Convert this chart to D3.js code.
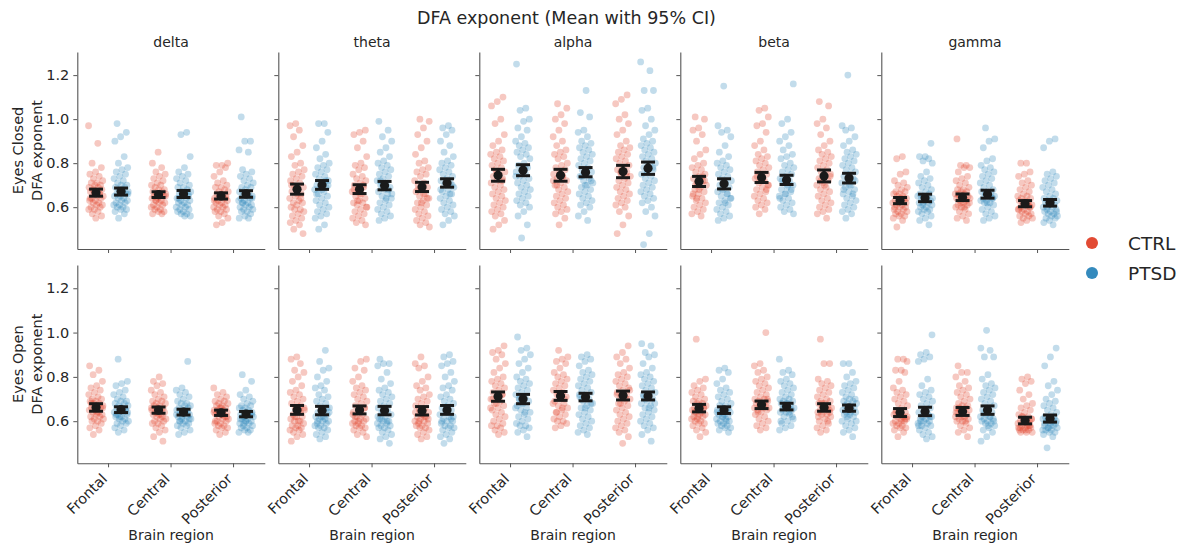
<!DOCTYPE html>
<html><head><meta charset="utf-8">
<script src="https://cdn.jsdelivr.net/npm/d3@7"></script>
<style>
body{margin:0;background:#fff}
text{font-family:"DejaVu Sans",sans-serif;fill:#262626}
</style>
</head><body>
<svg id="c" width="1186" height="548"></svg>
<script>
// ---------- categories ----------
const bands = ["delta","theta","alpha","beta","gamma"];
const regions = ["Frontal","Central","Posterior"];
const groups = ["CTRL","PTSD"];
const conditions = ["Eyes Closed","Eyes Open"];
const yTicks = [0.6,0.8,1.0,1.2];
const yTickLabels = ["0.6","0.8","1.0","1.2"];

// ---------- means and 95% CI half-widths, per band: [Frontal, Central, Posterior] ----------
const meanEC_CTRL = [[.666,.657,.651],[.682,.682,.692],[.745,.745,.762],[.717,.735,.742],[.630,.645,.616]];
const meanEC_PTSD = [[.671,.660,.660],[.701,.698,.710],[.768,.759,.777],[.706,.724,.732],[.642,.659,.620]];
const ciEC_CTRL   = [[.016,.013,.014],[.023,.020,.021],[.027,.027,.028],[.023,.023,.027],[.014,.015,.014]];
const ciEC_PTSD   = [[.016,.016,.015],[.020,.019,.019],[.025,.021,.028],[.023,.021,.022],[.017,.018,.015]];
const meanEO_CTRL = [[.662,.650,.638],[.651,.651,.647],[.711,.714,.716],[.659,.674,.662],[.639,.644,.603]];
const meanEO_PTSD = [[.652,.641,.632],[.648,.648,.651],[.700,.709,.714],[.650,.666,.659],[.644,.650,.612]];
const ciEO_CTRL   = [[.017,.014,.012],[.020,.018,.019],[.021,.020,.020],[.017,.017,.017],[.018,.018,.015]];
const ciEO_PTSD   = [[.013,.013,.012],[.019,.019,.020],[.021,.017,.018],[.015,.015,.014],[.019,.019,.016]];

// ---------- individual DFA exponents (x100), per strip: [Frontal, Central, Posterior] ----------
const ecDeltaCTRL = [
 [97,89,80,78,76,75,74,73,72,71,71,70,70,69,69,68,68,67,67,66,66,65,65,64,64,63,63,62,62,61,61,60,60,59,59,58,57,56,55,64,66,68],
 [85,80,78,76,75,74,73,72,71,70,70,69,68,68,67,67,66,66,65,65,65,64,64,63,63,62,62,61,61,60,60,59,59,58,58,57,57,63,65,66],
 [80,79,79,78,76,74,72,71,70,69,69,68,67,67,66,66,65,65,64,64,63,63,62,62,61,61,60,60,59,59,58,58,57,56,55,53,52,64,65,63]];
const ecDeltaPTSD = [
 [98,94,92,90,83,80,78,77,76,75,74,73,72,71,70,70,69,69,68,67,67,66,66,65,65,64,64,63,63,62,62,61,61,60,60,59,59,58,57,55,66,68],
 [94,93,83,78,76,75,74,73,72,71,70,69,69,68,67,67,66,66,65,65,64,64,63,63,62,62,61,61,60,60,59,59,58,58,57,57,56,56,64,66],
 [101,90,90,86,85,77,76,75,74,73,72,71,70,69,69,68,67,66,66,65,65,64,64,63,63,62,62,61,61,60,60,59,59,58,58,57,56,55,55,62,64]];
const ecThetaCTRL = [
 [98,97,95,92,88,85,83,80,79,77,76,75,74,73,72,71,70,69,68,67,66,65,64,63,62,62,61,60,59,59,58,57,56,55,54,53,52,50,48,66,70,64],
 [95,94,93,90,87,83,80,79,78,77,75,74,73,72,71,70,69,68,67,66,65,64,63,62,62,61,60,59,58,57,56,55,54,53,52,66,68,70,63,60],
 [100,99,96,93,90,87,84,81,80,78,77,76,75,74,72,71,70,69,68,67,66,65,64,63,62,61,60,59,58,57,56,55,54,53,52,51,66,68,64,62]];
const ecThetaPTSD = [
 [98,98,94,90,87,84,82,80,79,78,77,76,75,74,73,72,71,70,69,69,68,67,66,65,64,63,62,61,60,59,58,57,56,55,52,50,70,68,66,72],
 [99,95,92,90,87,85,83,81,80,79,78,77,76,75,74,73,72,71,70,69,68,67,66,65,64,63,62,61,60,59,58,57,56,55,54,68,70,66,64,72],
 [97,96,95,93,90,88,85,83,81,80,79,78,77,76,75,74,73,72,71,70,69,68,67,66,65,64,63,62,61,60,59,58,57,56,54,52,70,72,68,66]];
const ecAlphaCTRL = [
 [110,108,106,100,98,93,90,88,86,85,84,83,82,81,80,79,78,77,76,75,74,73,72,71,70,69,68,67,66,65,64,63,62,61,60,59,58,57,56,54,52,50,72,76],
 [107,105,102,100,98,95,92,90,88,86,85,84,83,82,80,79,78,77,76,75,74,73,72,71,70,69,68,67,66,65,64,63,62,61,60,59,58,57,55,52,72,74,70],
 [111,109,107,102,100,98,95,93,90,88,87,86,85,84,83,82,81,80,79,78,77,76,75,74,73,72,71,70,69,68,67,66,65,64,63,62,61,60,58,56,52,48,74,76]];
const ecAlphaPTSD = [
 [125,105,104,100,99,96,95,92,90,89,88,87,86,85,84,83,82,80,79,78,77,76,75,74,73,72,71,70,69,68,67,66,65,64,63,62,61,60,58,56,52,46,74,78],
 [113,103,101,95,94,92,90,89,88,87,86,85,84,83,82,81,80,79,78,77,76,75,74,73,72,71,70,69,68,67,66,65,64,63,62,61,60,58,56,54,74,72,70],
 [126,122,113,113,105,104,100,97,95,93,91,90,89,88,87,86,85,84,83,82,81,80,79,78,77,76,75,74,73,72,71,70,69,68,67,66,65,64,63,62,60,58,56,48,43,78,76]];
const ecBetaCTRL = [
 [101,100,96,95,93,90,86,84,82,80,79,78,77,76,75,74,73,72,71,70,69,68,67,66,65,64,63,62,61,60,59,58,57,56,70,72,68,66,74,64],
 [105,104,101,98,97,94,90,88,86,84,83,82,81,80,79,78,77,76,75,74,73,72,71,70,69,68,67,66,65,64,63,62,61,60,59,57,70,72,74,68],
 [108,106,100,98,96,93,90,88,86,85,84,83,82,81,80,79,78,77,76,75,74,73,72,71,70,69,68,67,66,65,64,63,62,61,60,59,58,57,55,72,74,70]];
const ecBetaPTSD = [
 [115,97,95,94,92,88,85,83,81,80,79,78,77,76,75,74,73,72,71,70,69,68,67,66,65,64,63,62,61,60,59,58,57,56,55,54,66,68,64,62],
 [116,100,98,94,92,90,88,86,84,83,82,80,79,78,77,76,75,74,73,72,71,70,69,68,67,66,65,64,63,62,61,60,59,58,57,70,72,68,66,64],
 [120,97,96,95,92,90,88,86,85,84,83,82,81,80,79,78,77,76,75,74,73,72,71,70,69,68,67,66,65,64,63,62,61,60,59,58,57,55,72,70,68,66]];
const ecGammaCTRL = [
 [83,82,76,75,72,71,70,69,68,67,67,66,66,65,65,64,64,63,63,62,62,61,61,60,60,59,59,58,58,57,57,56,56,55,54,51,62,63,60,64],
 [91,79,79,78,78,76,74,73,72,71,70,69,68,68,67,67,66,66,65,65,64,64,63,63,62,62,61,61,60,60,59,58,57,56,55,54,62,64,60,66],
 [80,80,76,75,74,72,71,70,69,68,67,66,65,65,64,64,63,63,62,62,61,61,60,60,59,59,58,58,57,57,56,56,55,55,54,53,60,62,59,61]];
const ecGammaPTSD = [
 [89,83,83,82,81,80,76,74,73,72,71,70,69,68,67,66,66,65,65,64,64,63,63,62,62,61,61,60,60,59,59,58,58,57,56,55,54,52,62,64],
 [96,91,90,87,82,81,79,78,77,76,75,74,73,72,71,70,69,68,67,67,66,66,65,65,64,64,63,63,62,62,61,60,59,58,57,56,55,54,64,62],
 [91,90,87,76,75,74,73,72,71,70,69,68,67,66,65,64,64,63,63,62,62,61,61,60,60,59,59,58,58,57,57,56,56,55,55,54,53,52,60,58]];

const eoDeltaCTRL = [
 [85,83,81,78,76,75,74,73,72,71,70,70,69,69,68,68,67,67,66,66,65,65,64,64,63,63,62,62,61,61,60,60,59,58,57,56,54,66,64,68],
 [80,78,77,76,74,73,72,71,70,69,69,68,68,67,67,66,66,65,65,64,64,63,63,62,62,61,61,60,60,59,59,58,57,56,55,53,51,64,66,63],
 [75,73,72,71,70,69,69,68,68,67,67,66,66,65,65,64,64,63,63,62,62,61,61,60,60,59,59,58,58,57,57,56,55,54,64,63,65,62,66,60]];
const eoDeltaPTSD = [
 [88,78,77,76,74,73,72,71,70,69,69,68,68,67,67,66,66,65,65,64,64,63,63,62,62,61,61,60,60,59,59,58,57,56,55,64,66,63,65,62],
 [87,75,74,73,72,71,70,69,68,68,67,67,66,66,65,65,64,64,63,63,62,62,61,61,60,60,59,59,58,58,57,56,55,54,64,62,63,65,60,61],
 [81,78,74,72,71,70,69,68,67,67,66,66,65,65,64,64,63,63,62,62,61,61,60,60,59,59,58,58,57,57,56,56,55,55,62,63,60,61,64,59]];
const eoThetaCTRL = [
 [89,88,86,83,82,80,78,76,74,73,72,71,70,69,68,67,66,65,64,63,62,62,61,60,60,59,58,58,57,57,56,56,55,54,53,51,64,62,66,60],
 [88,87,84,83,80,78,76,75,74,73,72,71,70,69,68,67,66,65,64,63,62,61,61,60,60,59,59,58,58,57,57,56,55,54,53,64,62,66,60,63],
 [89,86,85,84,80,78,76,75,74,72,71,70,69,68,67,66,65,64,63,62,62,61,60,60,59,59,58,58,57,57,56,55,54,53,52,64,62,60,61,63]];
const eoThetaPTSD = [
 [92,87,84,83,80,78,76,75,74,72,71,70,69,68,67,66,65,64,63,62,62,61,61,60,60,59,59,58,58,57,57,56,55,54,53,52,64,62,60,66],
 [88,86,86,85,82,79,77,75,74,73,72,71,70,69,68,67,66,65,64,63,62,61,60,60,59,59,58,58,57,57,56,55,54,53,52,50,64,62,60,61],
 [90,89,87,86,85,82,80,78,76,75,74,72,71,70,69,68,67,66,65,64,63,62,61,60,60,59,58,58,57,57,56,55,54,53,52,50,62,64,60,61]];
const eoAlphaCTRL = [
 [94,92,91,90,88,86,84,82,80,79,78,77,76,75,74,73,72,71,70,69,68,67,66,65,64,63,62,61,60,59,58,58,57,56,55,54,70,72,68,66],
 [92,89,88,87,86,84,82,81,80,79,78,77,76,75,74,73,72,71,70,69,68,67,66,65,64,63,62,61,60,60,59,58,57,70,72,68,66,64],
 [94,91,89,88,86,84,82,81,80,79,78,77,76,75,74,73,72,71,70,69,68,67,66,65,64,63,62,61,60,59,58,57,56,55,53,50,72,70,68,74]];
const eoAlphaPTSD = [
 [98,93,92,90,88,86,84,82,80,79,78,77,76,75,74,73,72,71,70,69,68,67,66,65,64,63,62,61,60,59,58,58,57,56,55,53,68,66,64,70],
 [90,89,88,87,85,83,82,81,80,79,78,77,76,75,74,73,72,71,70,69,68,67,66,65,64,63,62,61,60,59,58,57,56,55,54,70,68,66,72],
 [95,94,91,90,89,86,84,82,81,80,79,78,77,76,75,74,73,72,71,70,69,68,67,66,65,64,63,62,61,60,59,58,57,56,54,51,70,68,66,72]];
const eoBetaCTRL = [
 [97,79,78,76,75,74,73,72,71,70,69,69,68,68,67,67,66,66,65,65,64,64,63,63,62,62,61,61,60,60,59,59,58,57,56,55,53,64,66,62],
 [100,86,85,83,82,80,79,78,77,76,75,74,73,72,71,70,70,69,69,68,68,67,67,66,66,65,65,64,63,62,61,60,59,58,57,56,66,68,64,70],
 [97,86,86,79,78,77,76,75,74,73,72,71,70,69,69,68,68,67,67,66,66,65,65,64,64,63,63,62,61,60,59,58,57,56,55,64,66,62,60,68]];
const eoBetaPTSD = [
 [84,83,82,79,77,75,74,73,72,71,70,69,68,67,67,66,66,65,65,64,64,63,63,62,62,61,61,60,60,59,59,58,58,57,57,56,55,62,64,60],
 [88,83,82,81,79,78,77,76,75,74,73,72,71,70,70,69,69,68,68,67,67,66,66,65,65,64,64,63,62,61,60,59,58,57,56,64,66,62,68,60],
 [86,86,82,80,78,77,76,75,74,73,72,71,70,70,69,69,68,68,67,67,66,66,65,65,64,64,63,63,62,61,60,59,58,57,56,55,53,62,60,64]];
const eoGammaCTRL = [
 [88,88,87,83,83,82,78,75,74,73,72,71,70,69,68,67,66,65,64,63,63,62,62,61,61,60,60,59,59,58,58,57,57,56,55,53,62,60,64,61],
 [85,82,82,80,78,76,75,74,73,72,71,70,69,68,67,67,66,66,65,65,64,64,63,63,62,62,61,61,60,60,59,58,57,56,55,53,62,64,60,66],
 [80,79,78,77,74,72,70,68,67,66,65,64,63,62,62,61,61,60,60,59,59,58,58,57,57,56,56,56,55,55,55,58,60,57,59,62,61,56,57,58]];
const eoGammaPTSD = [
 [99,91,90,89,88,87,79,76,74,73,72,71,70,69,68,67,66,65,64,63,62,62,61,61,60,60,59,59,58,58,57,56,55,54,53,52,60,62,64,58],
 [101,93,92,89,89,81,79,77,76,75,74,73,72,71,70,69,68,67,66,65,64,63,62,62,61,61,60,60,59,59,58,57,56,55,53,51,62,64,60,58],
 [93,89,85,78,76,74,72,70,69,68,67,66,65,64,63,62,62,61,61,60,60,59,59,58,58,57,57,56,56,55,55,54,53,48,60,58,59,61,57,56]];

// ---------- lookup tables built from the arrays above ----------
const pointTable = [
  [[ecDeltaCTRL,ecDeltaPTSD],[ecThetaCTRL,ecThetaPTSD],[ecAlphaCTRL,ecAlphaPTSD],[ecBetaCTRL,ecBetaPTSD],[ecGammaCTRL,ecGammaPTSD]],
  [[eoDeltaCTRL,eoDeltaPTSD],[eoThetaCTRL,eoThetaPTSD],[eoAlphaCTRL,eoAlphaPTSD],[eoBetaCTRL,eoBetaPTSD],[eoGammaCTRL,eoGammaPTSD]]
];
const meanTable = [[meanEC_CTRL,meanEC_PTSD],[meanEO_CTRL,meanEO_PTSD]];
const ciTable = [[ciEC_CTRL,ciEC_PTSD],[ciEO_CTRL,ciEO_PTSD]];

// ---------- layout ----------
const svg = d3.select("#c");
const colors = {CTRL:"#E24A33", PTSD:"#348ABD"};
const panelLeft = 77.3, panelStep = 201, panelW = 187.5;
const rowTop = [52, 265], rowBottom = [249, 463.3];
const yDomain = [0.41, 1.305];
const dodge = {CTRL:-12.5, PTSD:12.5};
const jit = 7.5;
const spineColor = "#555";
const fs = "14.5px";

svg.append("text").attr("x",417).attr("y",24).attr("text-anchor","start")
  .style("font-size","17.5px").text("DFA exponent (Mean with 95% CI)");

conditions.forEach((cond, ci) => {
  const y = d3.scaleLinear().domain(yDomain).range([rowBottom[ci], rowTop[ci]]);
  bands.forEach((band, bi) => {
    const left = panelLeft + bi*panelStep;
    const x = d3.scaleBand().domain(regions).range([left, left+panelW]);
    const g = svg.append("g");

    // axes
    const ya = d3.axisLeft(y).tickValues(yTicks).tickSize(4).tickSizeOuter(0).tickPadding(4)
      .tickFormat((d,i) => bi===0 ? yTickLabels[i] : "");
    const gy = g.append("g").attr("transform",`translate(${left},0)`).call(ya);
    const xa = d3.axisBottom(x).tickSize(4).tickSizeOuter(0).tickFormat("");
    const gx = g.append("g").attr("transform",`translate(0,${rowBottom[ci]})`).call(xa);
    [gy,gx].forEach(a => {
      a.select(".domain").attr("stroke",spineColor).attr("stroke-width",1.1);
      a.selectAll(".tick line").attr("stroke",spineColor).attr("stroke-width",1);
      a.selectAll("text").style("font-size",fs).attr("fill","#262626").style("font-family","DejaVu Sans");
    });

    if (ci===0) {
      g.append("text").attr("x",left+panelW/2).attr("y",46.5).attr("text-anchor","middle")
        .style("font-size","14px").text(band);
    }
    if (ci===1) {
      regions.forEach(r => {
        const cx = x(r)+x.bandwidth()/2;
        g.append("text").attr("transform",`translate(${cx-4},${rowBottom[ci]+13}) rotate(-45)`)
          .attr("text-anchor","end").attr("dy","0.35em").style("font-size",fs).text(r);
      });
      g.append("text").attr("x",left+panelW/2).attr("y",540).attr("text-anchor","middle")
        .style("font-size","14px").text("Brain region");
    }

    // strip points
    regions.forEach((r, ri) => {
      groups.forEach((gname, gi) => {
        const vals = pointTable[ci][bi][gi][ri];
        const cx = x(r)+x.bandwidth()/2 + dodge[gname];
        const seed = (((ci*5+bi)*6 + ri*2 + gi) * 0.2357) % 1;
        g.append("g").selectAll("circle").data(vals).enter().append("circle")
          .attr("cx",(d,i) => cx + (((i*0.6180339887 + seed) % 1) - 0.5) * 2 * jit)
          .attr("cy", d => y(d/100))
          .attr("r",3.4).attr("fill",colors[gname]).attr("fill-opacity",0.3);
      });
    });

    // mean + CI
    regions.forEach((r, ri) => {
      groups.forEach((gname, gi) => {
        const m = meanTable[ci][gi][bi][ri], c = ciTable[ci][gi][bi][ri];
        const cx = x(r)+x.bandwidth()/2 + dodge[gname];
        const eg = g.append("g").attr("stroke","#1a1a1a").attr("stroke-width",3);
        eg.append("line").attr("x1",cx).attr("x2",cx).attr("y1",y(m-c)).attr("y2",y(m+c));
        eg.append("line").attr("x1",cx-7).attr("x2",cx+7).attr("y1",y(m-c)).attr("y2",y(m-c));
        eg.append("line").attr("x1",cx-7).attr("x2",cx+7).attr("y1",y(m+c)).attr("y2",y(m+c));
        g.append("circle").attr("cx",cx).attr("cy",y(m)).attr("r",4.6).attr("fill","#1a1a1a");
      });
    });
  });

  // row label
  const cy = (rowTop[ci]+rowBottom[ci])/2;
  svg.append("text").attr("transform",`translate(18,${cy}) rotate(-90)`).attr("text-anchor","middle")
    .attr("dy","0.35em").style("font-size",fs).text(cond);
  svg.append("text").attr("transform",`translate(37,${cy}) rotate(-90)`).attr("text-anchor","middle")
    .attr("dy","0.35em").style("font-size",fs).text("DFA exponent");
});

// legend
groups.forEach((gname, gi) => {
  const ly = 243 + gi*30;
  svg.append("circle").attr("cx",1092).attr("cy",ly).attr("r",6).attr("fill",colors[gname]);
  svg.append("text").attr("x",1128).attr("y",ly).attr("dy","0.36em").style("font-size","18.5px").text(gname);
});
</script>
</body></html>
